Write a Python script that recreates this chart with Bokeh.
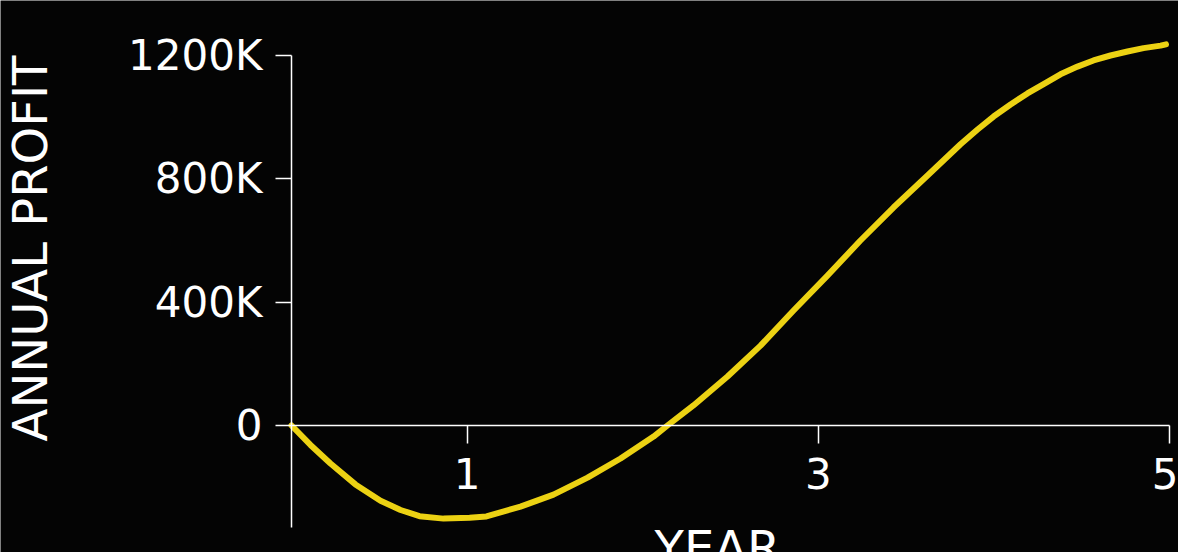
from bokeh.plotting import figure
from bokeh.models import FixedTicker, Range1d, Label
from bokeh.embed import file_html
from bokeh.resources import INLINE

# ---- data ----
years = [0.000, 0.108, 0.222, 0.364, 0.507, 0.621, 0.729, 0.866, 1.014, 1.110,
         1.304, 1.492, 1.686, 1.874, 2.062, 2.141, 2.289, 2.483, 2.671, 2.859,
         3.052, 3.240, 3.428, 3.622, 3.810, 3.907, 3.998, 4.095, 4.191, 4.288,
         4.379, 4.476, 4.567, 4.664, 4.761, 4.852, 4.949, 4.980]
profit_k = [0, -63, -123, -191, -244, -274, -294, -302, -299, -295,
            -263, -224, -169, -107, -36, 0, 65, 159, 259, 373,
            486, 600, 707, 811, 912, 960, 1002, 1041, 1077, 1109,
            1139, 1164, 1184, 1200, 1213, 1224, 1232, 1236]
profit = [v * 1000 for v in profit_k]

x_ticks = [1, 3, 5]
y_ticks = [0, 400000, 800000, 1200000]
y_tick_labels = ["0", "400K", "800K", "1200K"]
x_title = "YEAR"
y_title = "ANNUAL PROFIT"

BG = "#040404"
FG = "#ffffff"
YELLOW = "#ECD213"
FONT = "DejaVu Sans"

W, H = 1178, 552
# pixel geometry of the frame (frame covers the whole canvas)
x0_px, px_per_year = 291.0, 175.6
y0_px, px_per_val = 425.0, 370.0 / 1200000.0
x_start = -x0_px / px_per_year
x_end = (W - x0_px) / px_per_year
y_end = y0_px / px_per_val
y_start = -(H - y0_px) / px_per_val

p = figure(width=W, height=H, output_backend="svg", toolbar_location=None,
           x_range=Range1d(x_start, x_end), y_range=Range1d(y_start, y_end),
           min_border=0, min_border_left=0, min_border_right=0,
           min_border_top=0, min_border_bottom=0)

p.background_fill_color = BG
p.border_fill_color = BG
p.outline_line_color = None
p.outline_line_alpha = 0
p.grid.visible = False

p.line(years, profit, line_color=YELLOW, line_width=6,
       line_cap="round", line_join="round")

# x axis at y = 0
xa = p.xaxis[0]
xa.fixed_location = 0
xa.bounds = (0, 5)
xa.ticker = FixedTicker(ticks=x_ticks)
xa.minor_tick_line_color = None
xa.major_tick_in = 0
xa.major_tick_out = 18
xa.major_label_standoff = 14
xa.axis_line_color = FG
xa.axis_line_width = 1.5
xa.major_tick_line_color = FG
xa.major_tick_line_width = 1.5
xa.major_label_text_color = FG
xa.major_label_text_font = FONT
xa.major_label_text_font_size = "42px"

# y axis at x = 0
ya = p.yaxis[0]
ya.fixed_location = 0
ya.bounds = (-331000, 1200000)
ya.ticker = FixedTicker(ticks=y_ticks)
ya.major_label_overrides = {t: l for t, l in zip(y_ticks, y_tick_labels)}
ya.minor_tick_line_color = None
ya.major_tick_in = 0
ya.major_tick_out = 16
ya.major_label_standoff = 13
ya.axis_line_color = FG
ya.axis_line_width = 1.5
ya.major_tick_line_color = FG
ya.major_tick_line_width = 1.5
ya.major_label_text_color = FG
ya.major_label_text_font = FONT
ya.major_label_text_font_size = "42px"

# axis titles
p.add_layout(Label(x=-1.492, y=574000, text=y_title, angle=1.5707963,
                   text_align="center", text_baseline="alphabetic",
                   text_color=FG, text_font=FONT, text_font_size="48px"))
p.add_layout(Label(x=2.426, y=-396000, text=x_title,
                   text_align="center", text_baseline="alphabetic",
                   text_color=FG, text_font=FONT, text_font_size="48px"))

open("out.html", "w").write(file_html(p, INLINE))
